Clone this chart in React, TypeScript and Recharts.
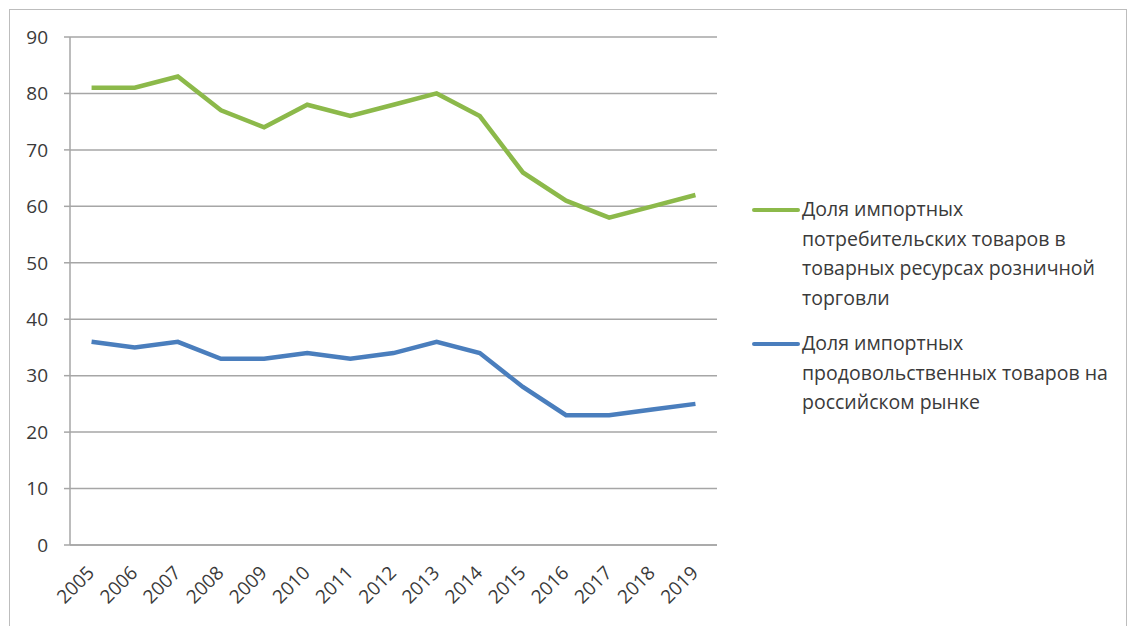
import { LineChart, Line, XAxis, YAxis, CartesianGrid } from 'recharts';

const years = ['2005', '2006', '2007', '2008', '2009', '2010', '2011', '2012', '2013', '2014', '2015', '2016', '2017', '2018', '2019'];
const consumerShare = [81, 81, 83, 77, 74, 78, 76, 78, 80, 76, 66, 61, 58, 60, 62];
const foodShare = [36, 35, 36, 33, 33, 34, 33, 34, 36, 34, 28, 23, 23, 24, 25];
const yTicks = [0, 10, 20, 30, 40, 50, 60, 70, 80, 90];
const edgeTicks = Array.from({ length: years.length + 1 }, (_, i) => i);

const SERIES = [
  { key: 'consumer', name: 'Доля импортных потребительских товаров в товарных ресурсах розничной торговли', color: '#8cb94a' },
  { key: 'food', name: 'Доля импортных продовольственных товаров на российском рынке', color: '#4a7ebd' },
];

const FONT = '"Open Sans", "DejaVu Sans", sans-serif';
const TEXT = '#3a3a3a';
const GRID = '#a6a6a6';

const data = years.map((year, i) => ({
  year,
  consumer: consumerShare[i],
  food: foodShare[i],
}));

function YearTick({ x, y, payload }: any) {
  return (
    <text
      x={x + 4}
      y={y + 21}
      transform={`rotate(-45, ${x + 4}, ${y + 21})`}
      textAnchor="end"
      fontSize={19}
      fontFamily={FONT}
      fill={TEXT}
    >
      {payload.value}
    </text>
  );
}

function LegendBox() {
  return (
    <div style={{ position: 'absolute', left: 752, top: 194, fontFamily: FONT, fontSize: 19.5, color: TEXT, lineHeight: '29.5px' }}>
      {SERIES.map((s) => (
        <div key={s.key} style={{ display: 'flex', alignItems: 'flex-start', marginBottom: 16 }}>
          <div style={{ width: 48, height: 4, background: s.color, marginTop: 14, flexShrink: 0, borderRadius: 2 }} />
          <div style={{ width: 318, marginLeft: 2 }}>{s.name}</div>
        </div>
      ))}
    </div>
  );
}

export default function App() {
  return (
    <div style={{ position: 'absolute', left: 0, top: 0, width: 1130, height: 626, background: '#fff', overflow: 'hidden' }}>
      <div style={{ position: 'absolute', left: 9, top: 9, width: 1116, height: 640, border: '1.5px solid #bdbdbd' }} />
      <LineChart width={1130} height={626} data={data} margin={{ top: 37, right: 413, bottom: 0, left: 10 }}>
        <CartesianGrid vertical={false} stroke={GRID} strokeWidth={1.5} />
        <XAxis
          dataKey="year"
          scale="band"
          interval={0}
          tickLine={false}
          axisLine={{ stroke: GRID, strokeWidth: 1.5 }}
          tick={<YearTick />}
          height={81}
        />
        <XAxis
          xAxisId="edges"
          type="number"
          domain={[0, years.length]}
          ticks={edgeTicks}
          tick={false}
          axisLine={false}
          tickLine={{ stroke: GRID, strokeWidth: 1.5 }}
          tickSize={6}
          height={0}
          allowDataOverflow
        />
        <YAxis
          domain={[0, 90]}
          ticks={yTicks}
          interval={0}
          width={60}
          tickSize={6}
          tickMargin={16}
          tickLine={{ stroke: GRID, strokeWidth: 1.5 }}
          axisLine={{ stroke: GRID, strokeWidth: 1.5 }}
          tick={{ fontSize: 19, fontFamily: FONT, fill: TEXT }}
        />
        {SERIES.map((s) => (
          <Line
            key={s.key}
            type="linear"
            dataKey={s.key}
            name={s.name}
            stroke={s.color}
            strokeWidth={4.5}
            dot={false}
            isAnimationActive={false}
          />
        ))}
      </LineChart>
      <LegendBox />
    </div>
  );
}
